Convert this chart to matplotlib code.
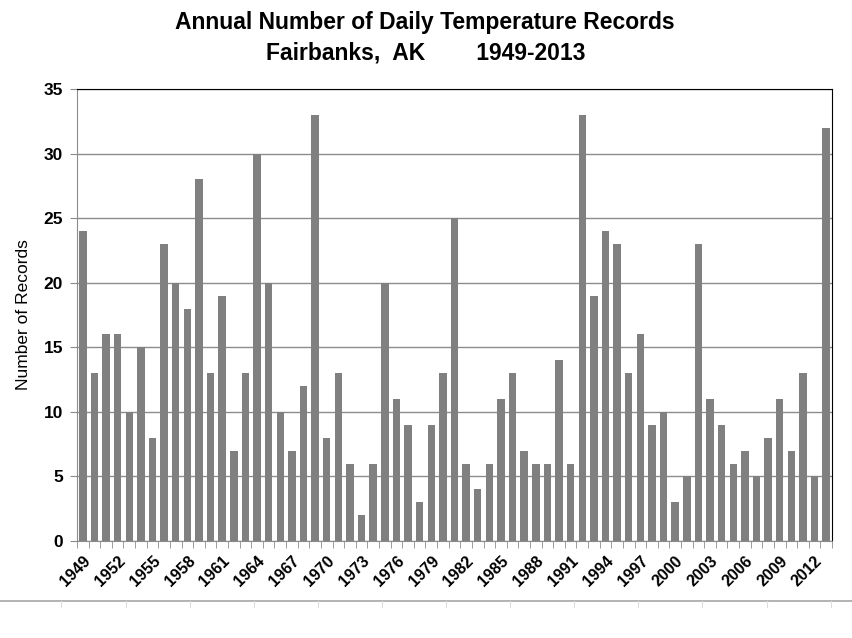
import matplotlib
matplotlib.use("Agg")
import matplotlib.pyplot as plt
from matplotlib.lines import Line2D
import numpy as np

plt.rcParams["font.family"] = ["Liberation Sans", "DejaVu Sans"]

years = list(range(1949, 2014))
records = [24, 13, 16, 16, 10, 15, 8, 23, 20, 18,
           28, 13, 19, 7, 13, 30, 20, 10, 7, 12,
           33, 8, 13, 6, 2, 6, 20, 11, 9, 3,
           9, 13, 25, 6, 4, 6, 11, 13, 7, 6,
           6, 14, 6, 33, 19, 24, 23, 13, 16, 9,
           10, 3, 5, 23, 11, 9, 6, 7, 5, 8,
           11, 7, 13, 5, 32]
y_ticks = [0, 5, 10, 15, 20, 25, 30, 35]

GRID = "#8c8c8c"
BAR = "#808080"

fig = plt.figure(figsize=(8.53, 6.38), dpi=100)
ax = fig.add_axes([77 / 853, 1 - 541 / 638, (832 - 77) / 853, (541 - 89) / 638])

x = np.arange(len(years))
ax.bar(x, records, width=0.64, color=BAR, zorder=2)

ax.set_xlim(-0.5, len(years) - 0.5)
ax.set_ylim(0, 35)
ax.set_yticks(y_ticks)
ax.set_yticklabels([str(v) for v in y_ticks], fontsize=12.5, fontweight="bold")
ax.yaxis.grid(True, color=GRID, lw=1.0, zorder=0)

# category labels every third year, ticks between categories
lab_idx = x[::3]
ax.set_xticks(lab_idx)
ax.set_xticklabels([str(years[i]) for i in lab_idx], rotation=45, ha="right",
                   rotation_mode="anchor", fontsize=11.5, fontweight="bold")
ax.tick_params(axis="x", which="major", length=0, pad=9)
ax.set_xticks(np.arange(-0.5, len(years) + 0.5, 1), minor=True)
ax.tick_params(axis="x", which="minor", length=5, color=GRID, direction="out")
ax.tick_params(axis="y", length=5, color=GRID, direction="out", pad=5)

for side in ("left", "bottom"):
    ax.spines[side].set_color(GRID)
for side in ("top", "right"):
    ax.spines[side].set_color("black")

ax.set_ylabel("Number of Records", fontsize=12.5, labelpad=9)

fig.text(425 / 853, 1 - 22 / 638, "Annual Number of Daily Temperature Records",
         ha="center", va="center", fontsize=16.5, fontweight="bold")
fig.text(426 / 853, 1 - 53 / 638, "Fairbanks,  AK        1949-2013",
         ha="center", va="center", fontsize=16.5, fontweight="bold")

# bottom strip line with small ticks
yl = 1 - 601 / 638
fig.add_artist(Line2D([0, 1], [yl, yl], color="#a6a6a6", lw=1.2))
for xp in np.arange(61.5, 853, 64.1):
    fig.add_artist(Line2D([xp / 853, xp / 853], [yl, yl - 6 / 638], color="#dddddd", lw=0.8))

fig.savefig("out.png", dpi=100, facecolor="white")
